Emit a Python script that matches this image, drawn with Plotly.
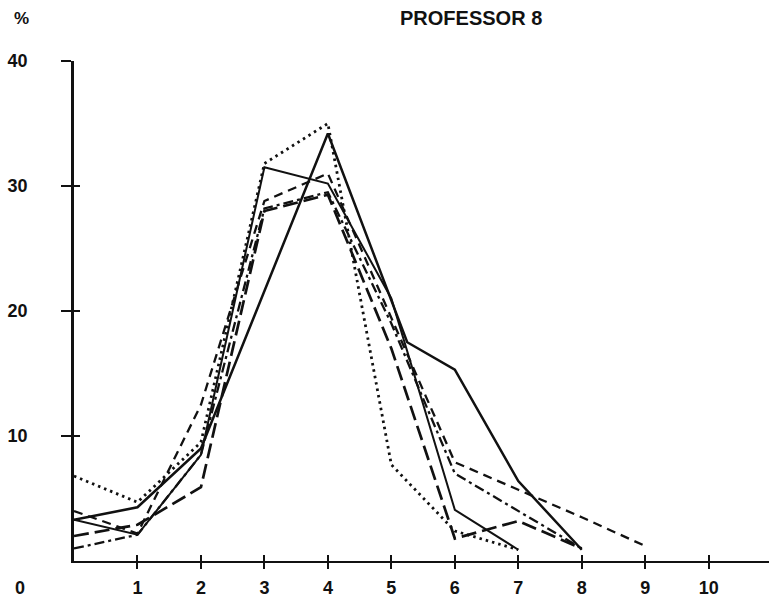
import plotly.graph_objects as go

# ---- data ----
X_DOTTED = [0, 1, 2, 3, 4, 5, 6, 7]
Y_DOTTED = [6.8, 4.7, 9.5, 31.8, 35.0, 7.7, 2.4, 0.9]

X_SOLID_THICK = [0, 1, 2, 3, 4, 5.25, 6, 7, 8]
Y_SOLID_THICK = [3.3, 4.3, 9.0, 21.6, 34.2, 17.5, 15.3, 6.4, 0.9]

X_SOLID_THIN = [0, 1, 2, 3, 4, 5, 6, 7]
Y_SOLID_THIN = [3.3, 2.1, 8.5, 31.5, 30.2, 21.0, 4.1, 0.9]

X_DASHED = [0, 1, 2, 3, 4, 5, 6, 7, 8, 9]
Y_DASHED = [4.0, 2.2, 12.5, 28.8, 31.0, 19.5, 7.9, 5.7, 3.5, 1.2]

X_DASHDOT = [0, 1, 2, 3, 4, 5, 6, 7, 8]
Y_DASHDOT = [1.0, 2.1, 8.5, 28.2, 29.5, 19.0, 7.0, 4.0, 1.0]

X_LONGDASH = [0, 1, 2, 3, 4, 5, 6, 7, 8]
Y_LONGDASH = [2.0, 2.9, 5.9, 28.0, 29.3, 17.0, 1.8, 3.2, 1.0]

X_TICKS = [1, 2, 3, 4, 5, 6, 7, 8, 9, 10]
Y_TICKS = [10, 20, 30, 40]
Y_CROSS_TICKS = [10, 20, 30]
TITLE = "PROFESSOR 8"

X_RANGE = [0, 10.95]
Y_RANGE = [0, 40]

FONT = "Liberation Sans"
INK = "#111111"

fig = go.Figure()

series = [
    (X_DOTTED, Y_DOTTED, "2.5px,4px", 2.8),
    (X_SOLID_THICK, Y_SOLID_THICK, "solid", 2.5),
    (X_SOLID_THIN, Y_SOLID_THIN, "solid", 2.0),
    (X_DASHED, Y_DASHED, "9px,6px", 2.3),
    (X_DASHDOT, Y_DASHDOT, "10px,4px,3px,4px", 2.3),
    (X_LONGDASH, Y_LONGDASH, "15px,6px", 2.7),
]
for xs, ys, dash, w in series:
    fig.add_trace(go.Scatter(
        x=xs, y=ys, mode="lines",
        line=dict(color=INK, width=w, dash=dash),
        showlegend=False, hoverinfo="skip",
    ))

# placeholder trace so the overlay axes (inner halves of the crossing ticks) are drawn
fig.add_trace(go.Scatter(x=[None], y=[None], xaxis="x2", yaxis="y2",
                         mode="lines", showlegend=False, hoverinfo="skip"))

tickfont = dict(family=FONT, size=18, color=INK, weight="bold")

fig.update_layout(
    width=772, height=601,
    margin=dict(l=74, r=3, t=61, b=38),
    paper_bgcolor="white", plot_bgcolor="white",
    xaxis=dict(range=X_RANGE, tickvals=X_TICKS,
               ticktext=[str(v) for v in X_TICKS],
               showgrid=False, zeroline=False, showline=True,
               linecolor=INK, linewidth=2, ticks="outside",
               ticklen=6, tickwidth=2.2, tickcolor=INK,
               ticklabelstandoff=3, tickfont=tickfont),
    yaxis=dict(range=Y_RANGE, tickvals=Y_TICKS,
               ticktext=[str(v) for v in Y_TICKS],
               showgrid=False, zeroline=False, showline=True,
               linecolor=INK, linewidth=2.6, ticks="outside",
               ticklen=10, tickwidth=2.2, tickcolor=INK,
               ticklabelstandoff=30, tickfont=tickfont),
    xaxis2=dict(range=X_RANGE, overlaying="x", tickvals=X_TICKS,
                showticklabels=False, showgrid=False, zeroline=False,
                showline=False, ticks="inside", ticklen=6, tickwidth=2.2,
                tickcolor=INK),
    yaxis2=dict(range=Y_RANGE, overlaying="y", tickvals=Y_CROSS_TICKS,
                showticklabels=False, showgrid=False, zeroline=False,
                showline=False, ticks="inside", ticklen=6, tickwidth=2.2,
                tickcolor=INK),
    annotations=[
        dict(text=TITLE, xref="paper", yref="paper", x=0.571, y=1.0857,
             xanchor="center", yanchor="middle", showarrow=False,
             font=dict(family=FONT, size=20, color=INK, weight="bold")),
        dict(text="%", xref="paper", yref="paper", x=-0.075, y=1.0857,
             xanchor="center", yanchor="middle", showarrow=False,
             font=dict(family=FONT, size=17, color=INK, weight="bold")),
        dict(text="0", xref="paper", yref="paper", x=-0.078, y=-0.054,
             xanchor="center", yanchor="middle", showarrow=False,
             font=dict(family=FONT, size=18, color=INK, weight="bold")),
    ],
)

fig.write_html("out.html")
